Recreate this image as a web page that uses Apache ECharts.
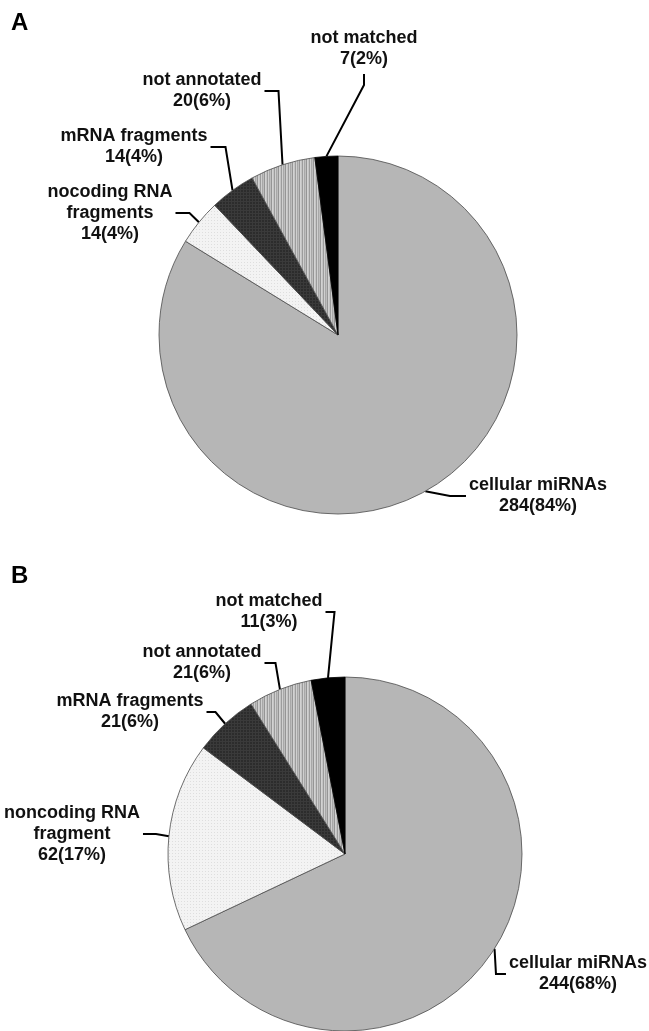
<!DOCTYPE html>
<html><head><meta charset="utf-8">
<script src="https://cdn.jsdelivr.net/npm/echarts@6/dist/echarts.min.js"></script>
<style>html,body{margin:0;padding:0;background:#fff}#c{width:649px;height:1031px}</style>
</head><body><div id="c"></div>
<script>
// ---- data ----
const panelLabels = ['A', 'B'];
const categoriesA = ['cellular miRNAs', 'nocoding RNA\nfragments', 'mRNA fragments', 'not annotated', 'not matched'];
const valuesA = [284, 14, 14, 20, 7];
const categoriesB = ['cellular miRNAs', 'noncoding RNA\nfragment', 'mRNA fragments', 'not annotated', 'not matched'];
const valuesB = [244, 62, 21, 21, 11];

// ---- layout (label anchors & leader-line styles, not data) ----
const labelPos = [
  [{x:538,y:496,side:'right',arm:19},{x:110,y:213,side:'left',arm:17},{x:134,y:147,side:'left',arm:18},{x:202,y:91,side:'left',arm:17},{x:364,y:49,side:'above',arm:11}],
  [{x:578,y:974,side:'right',arm:13},{x:72,y:834,side:'left',arm:16},{x:130,y:712,side:'left',arm:12},{x:202,y:663,side:'left',arm:14},{x:269,y:612,side:'left',arm:12}]
];

function mkPattern(w, h, draw) {
  const c = document.createElement('canvas'); c.width = w; c.height = h;
  draw(c.getContext('2d')); return c;
}
const stripe = mkPattern(7, 2, g => {
  const cols = ['#c4c4c4','#9c9c9c','#cfcfcf','#a8a8a8','#bdbdbd','#959595','#d2d2d2'];
  cols.forEach((col, i) => { g.fillStyle = col; g.fillRect(i, 0, 1, 2); });
});
const darkGrid = mkPattern(3, 3, g => {
  g.fillStyle = '#2c2c2c'; g.fillRect(0, 0, 3, 3);
  g.fillStyle = '#3a3a3a'; g.fillRect(0, 0, 1, 3); g.fillRect(0, 0, 3, 1);
});
const lightDots = mkPattern(3, 3, g => {
  g.fillStyle = '#f3f3f3'; g.fillRect(0, 0, 3, 3);
  g.fillStyle = '#dedede'; g.fillRect(1, 1, 1, 1);
});
const fills = ['#b6b6b6', {image: lightDots, repeat: 'repeat'}, {image: darkGrid, repeat: 'repeat'}, {image: stripe, repeat: 'repeat'}, '#000000'];

function buildData(cats, vals) {
  return cats.map((n, i) => ({name: n, value: vals[i], itemStyle: {color: fills[i], borderColor: i === 4 ? '#000' : '#4a4a4a'}}));
}

function layoutFn(p) {
  const L = labelPos[p.seriesIndex][p.dataIndex];
  const w = p.labelRect.width, h = p.labelRect.height;
  const e = p.labelLinePoints[0];
  let pts;
  if (L.side === 'left') {
    const r = L.x + w / 2;
    pts = [e, [r + L.arm, L.y], [r + 3, L.y]];
  } else if (L.side === 'right') {
    const l = L.x - w / 2;
    pts = [e, [l - L.arm, L.y], [l - 3, L.y]];
  } else {
    const b = L.y + h / 2;
    pts = [e, [L.x, b + 4 + L.arm], [L.x, b + 4]];
  }
  return {x: L.x, y: L.y, align: 'center', verticalAlign: 'middle', labelLinePoints: pts};
}

function pieSeries(cats, vals, center, radius) {
  return {
    type: 'pie', center: center, radius: radius, startAngle: 90, clockwise: true,
    avoidLabelOverlap: false, silent: true, animation: false,
    data: buildData(cats, vals),
    itemStyle: {borderWidth: 0.8},
    label: {
      show: true, position: 'outside', align: 'center',
      fontFamily: 'Liberation Sans, Arial, sans-serif', fontWeight: 'bold', fontSize: 18, lineHeight: 21, color: '#111',
      formatter: q => q.name + '\n' + q.value + '(' + Math.round(q.percent) + '%)'
    },
    labelLine: {show: true, length: 10, length2: 10, lineStyle: {color: '#000', width: 2}},
    labelLayout: layoutFn,
    emphasis: {disabled: true}
  };
}

const chart = echarts.init(document.getElementById('c'), null, {renderer: 'canvas'});
chart.setOption({
  backgroundColor: '#fff',
  animation: false,
  title: [
    {text: panelLabels[0], left: 11, top: 11, padding: 0, textStyle: {fontFamily: 'Liberation Sans, Arial', fontWeight: 'bold', fontSize: 24, color: '#000'}},
    {text: panelLabels[1], left: 11, top: 564, padding: 0, textStyle: {fontFamily: 'Liberation Sans, Arial', fontWeight: 'bold', fontSize: 24, color: '#000'}}
  ],
  series: [
    pieSeries(categoriesA, valuesA, [338, 335], 179),
    pieSeries(categoriesB, valuesB, [345, 854], 177)
  ]
});
</script></body></html>
